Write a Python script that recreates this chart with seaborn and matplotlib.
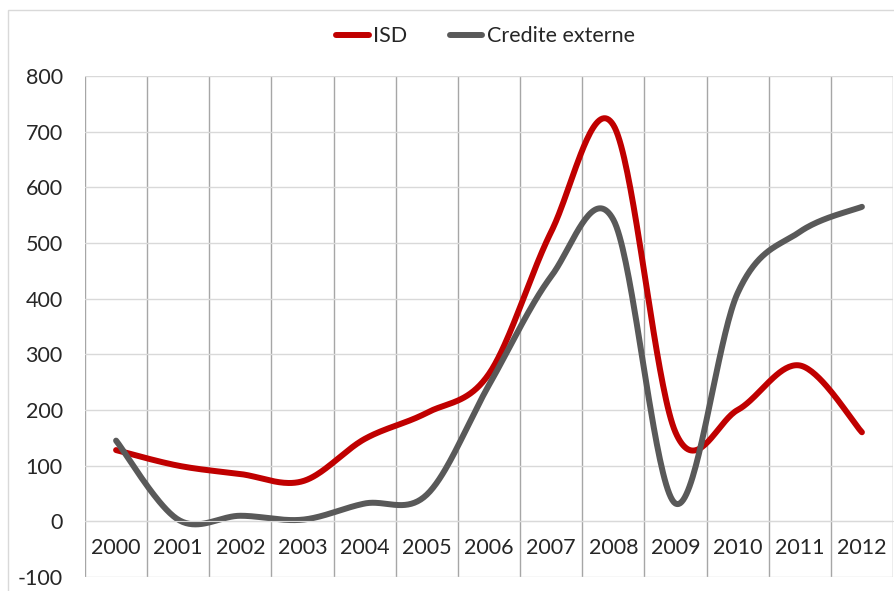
import numpy as np
import pandas as pd
import seaborn as sns
import matplotlib.pyplot as plt
from matplotlib.lines import Line2D
from matplotlib.patches import Rectangle

# values
years = ["2000", "2001", "2002", "2003", "2004", "2005", "2006",
         "2007", "2008", "2009", "2010", "2011", "2012"]
isd = [128, 100, 85, 72, 148, 195, 265, 520, 712, 160, 200, 280, 160]
credite = [145, 3, 10, 3, 32, 48, 245, 440, 542, 32, 410, 520, 565]

series_names = ["ISD", "Credite externe"]
colors = ["#C00000", "#595959"]


def excel_smooth(vals, n=40):
    # Bezier smoothing like Excel's "smoothed line"
    p = np.column_stack([np.arange(len(vals)), np.asarray(vals, float)])
    out = []
    for i in range(len(p) - 1):
        prev = p[i - 1] if i > 0 else p[i]
        nxt = p[i + 2] if i + 2 < len(p) else p[i + 1]
        c1 = p[i] + (p[i + 1] - prev) / 6
        c2 = p[i + 1] - (nxt - p[i]) / 6
        t = np.linspace(0, 1, n, endpoint=(i == len(p) - 2))[:, None]
        seg = ((1 - t) ** 3) * p[i] + 3 * ((1 - t) ** 2) * t * c1 \
            + 3 * (1 - t) * t ** 2 * c2 + t ** 3 * p[i + 1]
        out.append(seg)
    return np.vstack(out)


frames = []
for name, vals in zip(series_names, [isd, credite]):
    c = excel_smooth(vals)
    frames.append(pd.DataFrame({"x": c[:, 0], "y": c[:, 1], "serie": name}))
df = pd.concat(frames, ignore_index=True)

sns.set_style("white")
plt.rcParams['font.family'] = ['Lato', 'DejaVu Sans']
plt.rcParams['axes.unicode_minus'] = False

fig = plt.figure(figsize=(8.94, 5.91), dpi=100)
ax = fig.add_axes([85 / 894, 1 - 577 / 591, 808 / 894, 501 / 591])

sns.lineplot(data=df, x="x", y="y", hue="serie", palette=colors,
             sort=False, estimator=None, linewidth=4.3, legend=False, ax=ax)
for ln in ax.get_lines():
    ln.set_solid_capstyle("round")

ax.set_xlim(-0.5, 12.5)
ax.set_ylim(-100, 800)
ax.set_yticks(range(-100, 801, 100))
ax.set_xticks(range(len(years)))
ax.set_xticklabels(years)
ax.set_xticks(np.arange(-0.5, 13, 1), minor=True)
ax.set_xlabel("")
ax.set_ylabel("")

ax.grid(axis="y", which="major", color="#D9D9D9", linewidth=1)
ax.grid(axis="x", which="minor", color="#A6A6A6", linewidth=1)
ax.grid(axis="x", which="major", visible=False)

for s in ["top", "right", "left"]:
    ax.spines[s].set_visible(False)
ax.spines["bottom"].set_position(("data", 0))
ax.spines["bottom"].set_color("#D9D9D9")
ax.tick_params(axis="x", which="both", length=0, pad=12, labelsize=15.5)
ax.tick_params(axis="y", length=0, pad=16, labelsize=15.5)

handles = [Line2D([], [], color=c, lw=4.3, solid_capstyle="round") for c in colors]
fig.legend(handles, series_names, loc="center", bbox_to_anchor=(0.543, 0.939),
           ncol=2, frameon=False, fontsize=15.5, handlelength=1.5,
           handletextpad=0.2, columnspacing=2.0)

# chart area border
fig.patches.append(Rectangle((8 / 894, -0.1), 1.2, 1 - 10 / 591 + 0.1,
                             transform=fig.transFigure, fill=False,
                             edgecolor="#D9D9D9", linewidth=1))

fig.savefig("out.png", dpi=100)
